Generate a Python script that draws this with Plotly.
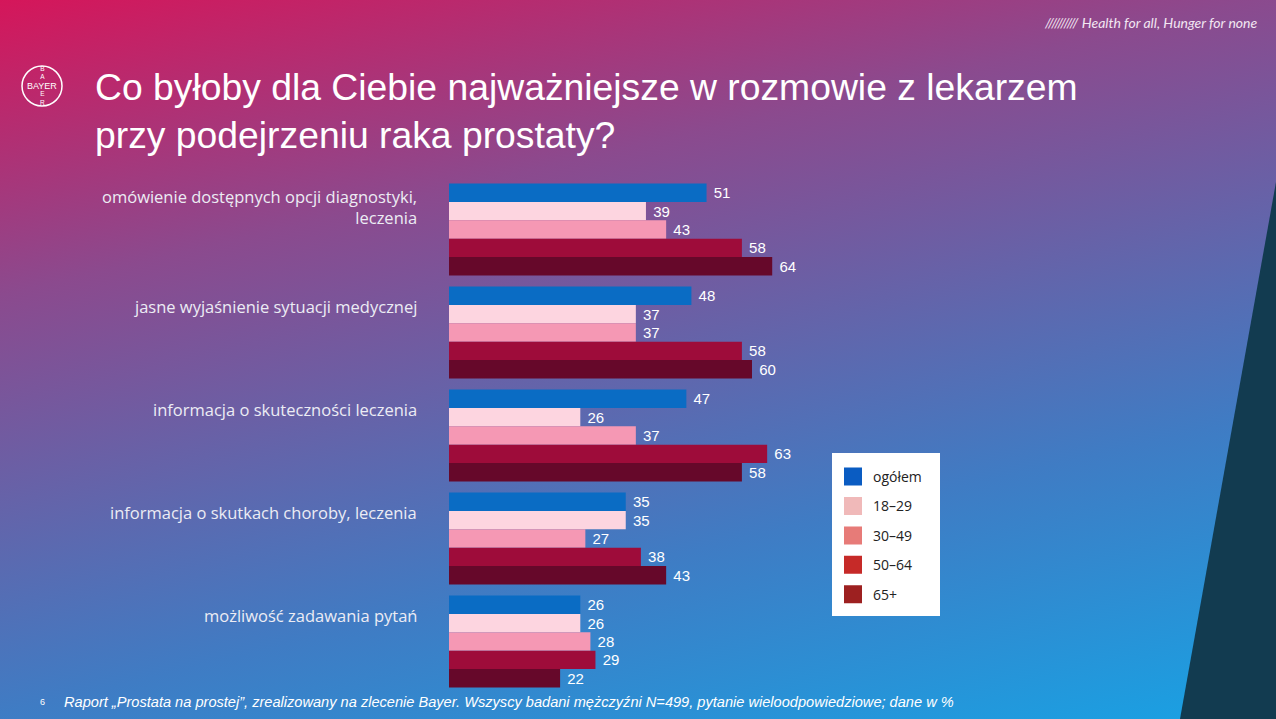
import base64
import plotly.graph_objects as go

# Dane z wykresu (%)
kategorie = [
    "omówienie dostępnych opcji diagnostyki,<br>leczenia",
    "jasne wyjaśnienie sytuacji medycznej",
    "informacja o skuteczności leczenia",
    "informacja o skutkach choroby, leczenia",
    "możliwość zadawania pytań",
]
grupy = ["ogółem", "18–29", "30–49", "50–64", "65+"]
ogolem = [51, 48, 47, 35, 26]
wiek_18_29 = [39, 37, 26, 35, 26]
wiek_30_49 = [43, 37, 37, 27, 28]
wiek_50_64 = [58, 58, 63, 38, 29]
wiek_65 = [64, 60, 58, 43, 22]
wartosci = [ogolem, wiek_18_29, wiek_30_49, wiek_50_64, wiek_65]

kolory_slupkow = ["#0a6cc4", "#fdd5e0", "#f598b4", "#9e0c3a", "#66082a"]
kolory_legendy = ["#0a5cc2", "#f0b9b9", "#e77b78", "#c62a28", "#9d2020"]

W, H = 1276, 719
L, R, T, B = 449, 853, 178, 693   # obszar wykresu w pikselach


def px(x):
    return (x - L) / (R - L)


def py(y):
    return (B - y) / (B - T)


# tło z gradientem (SVG)
svg = f'''<svg xmlns="http://www.w3.org/2000/svg" width="{W}" height="{H}" viewBox="0 0 {W} {H}" preserveAspectRatio="none">
<defs><linearGradient id="g" gradientUnits="userSpaceOnUse" x1="0" y1="0" x2="227" y2="966">
<stop offset="0" stop-color="#d5165a"/>
<stop offset="0.29" stop-color="#8b4a8e"/>
<stop offset="0.70" stop-color="#3f7cc4"/>
<stop offset="1" stop-color="#18a2e4"/>
</linearGradient></defs>
<rect width="{W}" height="{H}" fill="url(#g)"/>
</svg>'''
tlo = "data:image/svg+xml;base64," + base64.b64encode(svg.encode("utf-8")).decode()

fig = go.Figure()

for nazwa, vals, kolor in zip(grupy, wartosci, kolory_slupkow):
    fig.add_trace(go.Bar(
        y=kategorie, x=vals, orientation="h", name=nazwa,
        marker=dict(color=kolor, line_width=0),
        texttemplate="\u00a0%{x}", textposition="outside", constraintext="none",
        textfont=dict(family="Liberation Sans, Arial", size=15, color="white"),
        cliponaxis=False, showlegend=False,
    ))

# osobne wpisy legendy (kolory jak w oryginalnej legendzie)
for i, (nazwa, kolor) in enumerate(zip(grupy, kolory_legendy)):
    fig.add_trace(go.Scatter(
        x=[None], y=[None], mode="markers", name=nazwa, legendgroup=str(i),
        marker=dict(symbol="square", size=16, color=kolor, line=dict(color=kolor, width=2)),
    ))

adnotacje = []
# etykiety kategorii
for k in kategorie:
    adnotacje.append(dict(
        x=0, xref="paper", y=k, yref="y", xanchor="right", yanchor="middle",
        xshift=-30, yshift=23 if "<br>" in k else 26, text=k, showarrow=False, align="right",
        font=dict(family="Open Sans", size=16.5, color="#ececf4"),
    ))

# tytuł
adnotacje.append(dict(
    x=px(93), y=py(64), xref="paper", yref="paper", xanchor="left", yanchor="top",
    text="Co byłoby dla Ciebie najważniejsze w rozmowie z lekarzem<br>przy podejrzeniu raka prostaty?",
    showarrow=False, align="left",
    font=dict(family="Liberation Sans, Arial", size=37.3, color="white"),
))
# hasło
adnotacje.append(dict(
    x=px(1260), y=py(22), xref="paper", yref="paper", xanchor="right", yanchor="middle",
    text="<i>////////// Health for all, Hunger for none</i>", showarrow=False,
    font=dict(family="Lato", size=14, color="#f2e6f2"),
))
# przypis
adnotacje.append(dict(
    x=px(38), y=py(702), xref="paper", yref="paper", xanchor="left", yanchor="middle",
    text="6", showarrow=False, font=dict(family="Liberation Sans, Arial", size=9, color="white"),
))
adnotacje.append(dict(
    x=px(62), y=py(702), xref="paper", yref="paper", xanchor="left", yanchor="middle",
    text="<i>Raport „Prostata na prostej”, zrealizowany na zlecenie Bayer. Wszyscy badani mężczyźni N=499, "
         "pytanie wieloodpowiedziowe; dane w %</i>",
    showarrow=False, font=dict(family="Liberation Sans, Arial", size=14.6, color="white"),
))
# logo Bayer
cx, cy = 42, 86
adnotacje.append(dict(
    x=px(cx), y=py(cy), xref="paper", yref="paper", xanchor="center", yanchor="middle",
    text="BAYER", showarrow=False, borderpad=0,
    font=dict(family="Liberation Sans, Arial", size=9, color="white"),
))
adnotacje.append(dict(
    x=px(cx), y=py(cy), xref="paper", yref="paper", xanchor="center", yanchor="middle",
    text="B<br>A<br><br>E<br>R", showarrow=False, borderpad=0,
    font=dict(family="Liberation Sans, Arial", size=6.5, color="white"),
))

ksztalty = [
    dict(type="circle", xref="paper", yref="paper",
         x0=px(cx - 20), x1=px(cx + 20), y0=py(cy + 20), y1=py(cy - 20),
         line=dict(color="white", width=1.5)),
    dict(type="path", xref="paper", yref="paper",
         path=f"M {px(1276)},{py(182)} L {px(1276)},{py(719)} L {px(1180)},{py(719)} Z",
         fillcolor="#123b50", line_width=0),
    # białe tło legendy
    dict(type="rect", xref="paper", yref="paper",
         x0=px(832), x1=px(940), y0=py(616), y1=py(453),
         fillcolor="white", line_width=0),
]

fig.update_layout(
    width=W, height=H, autosize=False,
    margin=dict(l=L, r=W - R, t=T, b=H - B),
    barmode="group", bargap=0.107, bargroupgap=0,
    paper_bgcolor="#6a5aa0", plot_bgcolor="rgba(0,0,0,0)",
    xaxis=dict(range=[0, 80], visible=False, fixedrange=True),
    yaxis=dict(autorange="reversed", showticklabels=False, showgrid=False,
               zeroline=False, ticks="", fixedrange=True),
    images=[dict(source=tlo, xref="paper", yref="paper", x=px(0), y=py(0),
                 sizex=W / (R - L), sizey=H / (B - T), sizing="stretch",
                 xanchor="left", yanchor="top", layer="below")],
    shapes=ksztalty,
    annotations=adnotacje,
    legend=dict(x=px(833), y=py(461), xanchor="left", yanchor="top",
                bgcolor="rgba(0,0,0,0)", borderwidth=0, tracegroupgap=8.2,
                font=dict(family="Open Sans", size=14, color="#222222")),
)

fig.write_html("out.html", config={"displayModeBar": False},
               post_script="document.body.style.margin='0';document.body.style.overflow='hidden';")
